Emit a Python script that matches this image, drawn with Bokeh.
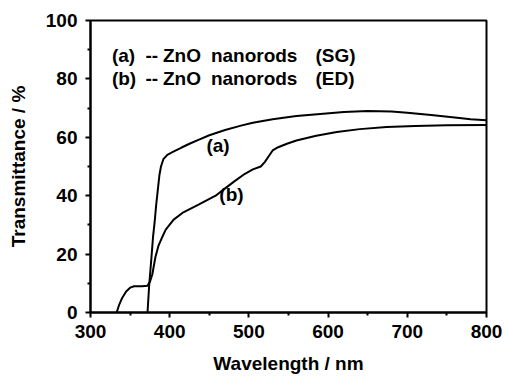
from bokeh.plotting import figure
from bokeh.models import Label, Range1d, FixedTicker
from bokeh.embed import file_html
from bokeh.resources import INLINE

# Curve (a): ZnO nanorods (SG)
wl_a = [372, 374, 377, 379, 381, 383, 385, 387, 389, 392, 397, 404, 415, 425, 437,
        450, 470, 490, 505, 530, 560, 590, 620, 650, 680, 700, 730, 760, 780, 800]
tr_a = [0, 9, 19, 26, 31, 37, 42, 47, 50, 52.5, 54, 55, 56.5, 57.8, 59.2,
        60.7, 62.5, 64, 65, 66.2, 67.3, 68, 68.7, 69, 68.8, 68.4, 67.6, 66.8, 66.2, 65.8]

# Curve (b): ZnO nanorods (ED)
wl_b = [333, 336, 340, 345, 350, 355, 365, 372, 375, 378, 382, 386, 390, 395, 405,
        416, 437, 458, 470, 482, 495, 505, 515, 520, 525, 530, 537, 548, 560, 585,
        611, 640, 674, 710, 750, 800]
tr_b = [0, 2.5, 5, 7.2, 8.5, 9.0, 9.0, 9.2, 10.5, 13, 19, 23, 25.5, 28.4, 31.8,
        34.1, 37, 40, 42.5, 45, 47.5, 49, 50, 51.5, 53.5, 55.5, 56.6, 57.8, 58.9, 60.5,
        61.8, 62.8, 63.5, 63.9, 64.1, 64.2]

x_ticks = [300, 400, 500, 600, 700, 800]
x_minor = [350, 450, 550, 650, 750]
y_ticks = [0, 20, 40, 60, 80, 100]
y_minor = [10, 30, 50, 70, 90]

legend_words_a = ["(a)", "--", "ZnO", "nanorods", "(SG)"]
legend_words_b = ["(b)", "--", "ZnO", "nanorods", "(ED)"]
legend_word_x = [327, 369.5, 391.5, 452, 584]

FONT = "Liberation Sans"

p = figure(width=506, height=378, output_backend="svg", toolbar_location=None,
           x_range=Range1d(300, 800), y_range=Range1d(0, 100),
           min_border_left=90, min_border_right=20, min_border_top=20, min_border_bottom=66)

p.line(wl_a, tr_a, line_color="black", line_width=2)
p.line(wl_b, tr_b, line_color="black", line_width=2)

p.grid.visible = False
p.outline_line_color = "black"
p.outline_line_width = 2
p.background_fill_color = "white"
p.border_fill_color = "white"

p.xaxis.ticker = FixedTicker(ticks=x_ticks, minor_ticks=x_minor)
p.yaxis.ticker = FixedTicker(ticks=y_ticks, minor_ticks=y_minor)

for ax in (p.xaxis, p.yaxis):
    ax.axis_line_width = 2
    ax.axis_line_color = "black"
    ax.major_tick_line_width = 2
    ax.minor_tick_line_width = 2
    ax.major_tick_line_color = "black"
    ax.minor_tick_line_color = "black"
    ax.major_tick_out = 5
    ax.major_tick_in = 0
    ax.minor_tick_out = 3
    ax.minor_tick_in = 0
    ax.major_label_text_font = FONT
    ax.major_label_text_font_style = "bold"
    ax.major_label_text_font_size = "19px"
    ax.major_label_text_color = "black"
    ax.axis_label_text_font = FONT
    ax.axis_label_text_font_style = "bold"
    ax.axis_label_text_font_size = "19px"
    ax.axis_label_text_color = "black"

p.xaxis.axis_label = "Wavelength / nm"
p.yaxis.axis_label = "Transmittance / %"
p.xaxis.major_label_standoff = 7
p.xaxis.axis_label_standoff = 12
p.yaxis.major_label_standoff = 8
p.yaxis.axis_label_standoff = 14

for words, yv in ((legend_words_a, 88), (legend_words_b, 80)):
    for w, xv in zip(words, legend_word_x):
        p.add_layout(Label(x=xv, y=yv, text=w, text_font=FONT, text_font_style="bold",
                           text_font_size="19px", text_baseline="middle", text_align="left",
                           text_color="black"))

p.add_layout(Label(x=461, y=57.2, text="(a)", text_font=FONT, text_font_style="bold",
                   text_font_size="19px", text_baseline="middle", text_align="center",
                   text_color="black"))
p.add_layout(Label(x=478, y=40.5, text="(b)", text_font=FONT, text_font_style="bold",
                   text_font_size="19px", text_baseline="middle", text_align="center",
                   text_color="black"))

open("out.html", "w").write(file_html(p, INLINE))
